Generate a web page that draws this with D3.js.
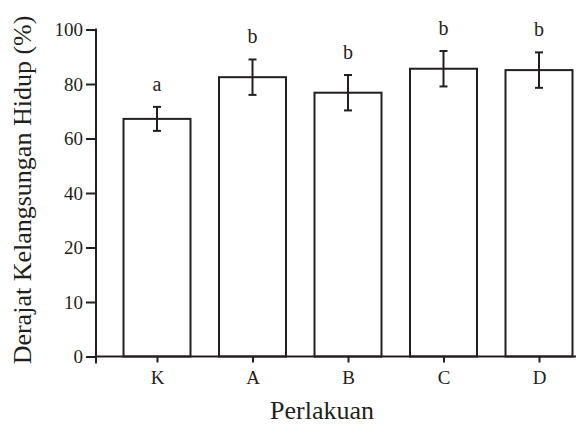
<!DOCTYPE html>
<html>
<head>
<meta charset="UTF-8">
<title>Derajat Kelangsungan Hidup</title>
<script src="https://cdn.jsdelivr.net/npm/d3@7"></script>
<style>
    body { margin: 0; background: #fff; }
</style>
</head>
<body>
<div id="grafico"></div>
<script>
// data
var categories = ["K", "A", "B", "C", "D"];
var values = [67.2, 82.5, 76.8, 85.6, 85.1];
var errors = [4.4, 6.5, 6.5, 6.5, 6.5];
var letters = ["a", "b", "b", "b", "b"];
var yTicks = [0, 10, 20, 40, 60, 80, 100];

var w = 577, h = 425;
var ink = "#231f20";
var serif = "'Liberation Serif', 'Times New Roman', Times, serif";

var svg = d3.select("#grafico").append("svg")
    .attr("width", w)
    .attr("height", h)
    .attr("font-family", serif);

// y axis ticks are evenly spaced, so the scale is piecewise
var y0 = 356.5, y1 = 29.5;
var step = (y0 - y1) / (yTicks.length - 1);
var yScale = d3.scaleLinear()
    .domain(yTicks)
    .range(yTicks.map(function(d, i) { return y0 - i * step; }));

var xScale = d3.scalePoint()
    .domain(categories)
    .range([157, 539]);
var barW = 67;
var axisX = 96;

// bars
svg.selectAll("rect.bar")
    .data(values)
    .enter()
    .append("rect")
    .attr("class", "bar")
    .attr("x", function(d, i) { return xScale(categories[i]) - barW / 2; })
    .attr("y", function(d) { return yScale(d); })
    .attr("width", barW)
    .attr("height", function(d) { return y0 - yScale(d); })
    .attr("fill", "#fff")
    .attr("stroke", ink)
    .attr("stroke-width", 2);

// error bars
var eb = svg.selectAll("g.err")
    .data(values)
    .enter()
    .append("g")
    .attr("class", "err")
    .attr("stroke", ink)
    .attr("stroke-width", 2);
eb.append("line")
    .attr("x1", function(d, i) { return xScale(categories[i]); })
    .attr("x2", function(d, i) { return xScale(categories[i]); })
    .attr("y1", function(d, i) { return yScale(d + errors[i]); })
    .attr("y2", function(d, i) { return yScale(d - errors[i]); });
eb.append("line")
    .attr("x1", function(d, i) { return xScale(categories[i]) - 4; })
    .attr("x2", function(d, i) { return xScale(categories[i]) + 4; })
    .attr("y1", function(d, i) { return yScale(d + errors[i]); })
    .attr("y2", function(d, i) { return yScale(d + errors[i]); });
eb.append("line")
    .attr("x1", function(d, i) { return xScale(categories[i]) - 4; })
    .attr("x2", function(d, i) { return xScale(categories[i]) + 4; })
    .attr("y1", function(d, i) { return yScale(d - errors[i]); })
    .attr("y2", function(d, i) { return yScale(d - errors[i]); });

// significance letters
svg.selectAll("text.sig")
    .data(letters)
    .enter()
    .append("text")
    .attr("class", "sig")
    .attr("x", function(d, i) { return xScale(categories[i]); })
    .attr("y", function(d, i) { return yScale(values[i] + errors[i]) - 16; })
    .attr("text-anchor", "middle")
    .attr("font-size", "20px")
    .attr("fill", ink)
    .text(function(d) { return d; });

// y axis
var yAxis = svg.append("g")
    .attr("transform", "translate(" + axisX + ",0)")
    .call(d3.axisLeft(yScale).tickValues(yTicks).tickSize(10).tickPadding(3));
yAxis.attr("font-family", serif).attr("font-size", 19);
yAxis.select(".domain").remove();
yAxis.selectAll(".tick line").attr("stroke", ink).attr("stroke-width", 2);
yAxis.selectAll(".tick text").attr("fill", ink);
svg.append("line")
    .attr("x1", axisX).attr("x2", axisX)
    .attr("y1", y1 - 1).attr("y2", y0 + 7)
    .attr("stroke", ink).attr("stroke-width", 2);

// x axis
var xAxis = svg.append("g")
    .attr("transform", "translate(0," + y0 + ")")
    .call(d3.axisBottom(xScale).tickSize(6).tickPadding(8));
xAxis.attr("font-family", serif).attr("font-size", 19);
xAxis.select(".domain").remove();
xAxis.selectAll(".tick line").attr("stroke", ink).attr("stroke-width", 2);
xAxis.selectAll(".tick text").attr("fill", ink);
svg.append("line")
    .attr("x1", axisX).attr("x2", 576)
    .attr("y1", y0).attr("y2", y0)
    .attr("stroke", ink).attr("stroke-width", 2);

// titles
svg.append("text")
    .attr("transform", "translate(31,190) rotate(-90)")
    .attr("text-anchor", "middle")
    .attr("font-size", "26px")
    .attr("fill", ink)
    .text("Derajat Kelangsungan Hidup (%)");
svg.append("text")
    .attr("x", 322)
    .attr("y", 419)
    .attr("text-anchor", "middle")
    .attr("font-size", "26px")
    .attr("fill", ink)
    .text("Perlakuan");
</script>
</body>
</html>
